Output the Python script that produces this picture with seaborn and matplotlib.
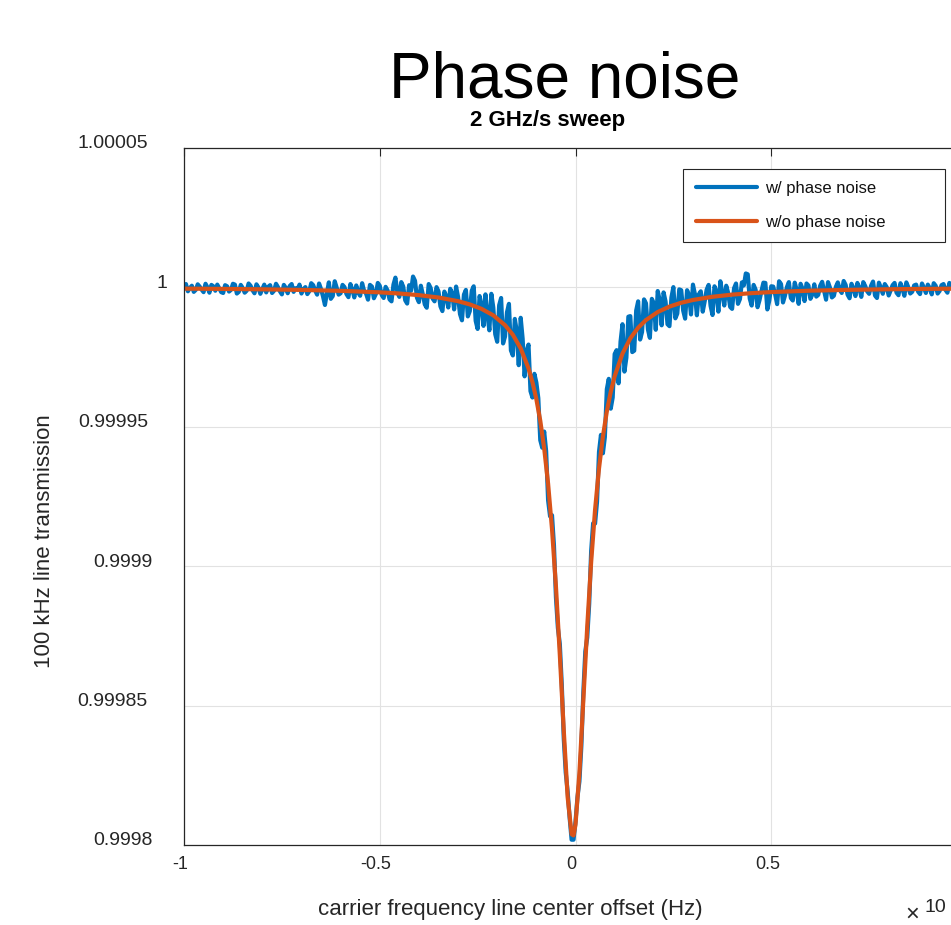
import numpy as np
import matplotlib
matplotlib.use("Agg")
import matplotlib.pyplot as plt
import matplotlib.transforms as mtransforms
import seaborn as sns

# carrier offset in units of 1e6 Hz, transmission given as deviation from 1 in ppm
# smooth curve (w/o phase noise)
x_clean = [-1.0, -0.9, -0.8, -0.7, -0.6, -0.5, -0.45, -0.4, -0.35, -0.3,
           -0.27, -0.24, -0.21, -0.18, -0.16, -0.14, -0.12, -0.11, -0.10, -0.09,
           -0.08, -0.07, -0.06, -0.05, -0.04, -0.03, -0.02, -0.01, -0.005, 0.0,
           0.01, 0.02, 0.03, 0.04, 0.05, 0.06, 0.07, 0.08, 0.09, 0.10,
           0.12, 0.14, 0.16, 0.18, 0.21, 0.24, 0.27, 0.30, 0.35, 0.40,
           0.45, 0.50, 0.60, 0.70, 0.80, 0.90, 1.0]
clean_ppm = [-0.44, -0.54, -0.69, -0.90, -1.23, -1.77, -2.19, -2.78, -3.63, -4.94,
             -6.10, -7.70, -10.02, -13.54, -16.99, -21.87, -29.05, -33.95, -40.07, -47.82,
             -57.72, -70.42, -86.69, -107.19, -131.92, -158.89, -182.93, -196.12, -196.57, -192.65,
             -174.15, -148.08, -121.60, -98.48, -79.72, -64.97, -53.47, -44.50, -37.46, -31.86,
             -23.73, -18.27, -14.46, -11.71, -8.83, -6.88, -5.51, -4.51, -3.36, -2.59,
             -2.06, -1.68, -1.17, -0.87, -0.67, -0.53, -0.43]

# noisy sweep (w/ phase noise), one sample every 0.005 from -1.000 to 0.995
noisy_left_ppm = [  # -1.000 .. -0.105
    -0.1, 1.2, -1.4, -0.2, 0.6, -1.6, -0.9, 1.1, 0.3, -0.8,
    -1.7, 1.3, 0.0, -1.9, 0.9, 0.4, -1.2, 1.0, -0.3, -1.7,
    -2.0, 0.8, 0.4, -1.5, -0.9, 1.3, 1.0, -2.2, -1.6, 0.9,
    -0.2, -1.9, -1.2, 1.4, 0.6, -1.0, -2.1, 1.1, 0.0, -2.3,
    -0.6, 1.0, -1.8, 0.2, 0.8, -2.0, -1.2, 1.3, 0.1, -1.4,
    -2.5, 0.9, -0.2, -2.1, 0.5, 1.2, -1.6, -0.3, -0.7, 1.0,
    -2.2, -0.6, 0.1, -2.4, -1.4, 1.5, 0.8, -1.1, -2.6, 1.4,
    -0.6, -3.2, -6.3, -2.0, 1.8, -4.1, -3.1, 2.2, -0.1, -2.6,
    -2.1, 0.9,
    0.1, -2.4, -3.5, 1.2, -0.8, -3.6, 0.7, -1.9, -3.0, 1.5,
    -1.2, -2.2, -4.4, 0.9, 0.3, -3.9, -2.4, 1.6, 0.6, -2.7,
    -3.8, 0.2, -1.1, -4.3, -5.0, 1.0, 3.5, -1.8, -3.4, 1.9,
    0.3, -4.6, -5.8, 0.8, -1.2, 3.9, 2.4, -3.7, -5.3, 0.6,
    -2.5, -6.1, -7.3, 1.2, -0.2, -4.0, -5.0, 0.1, -1.4, -6.8,
    -8.5, -1.5, -3.2, -7.2, -0.5, -2.1, -7.9, 0.3, -3.4, -9.6,
    -11.8, -2.6, -0.9, -10.4, -8.5, -1.2, 0.4, -12.0, -14.9, -3.1,
    -6.1, -13.8, -2.5, -9.9, -15.4, -2.3, -7.2, -16.8, -19.5, -6.4,
    -3.8, -20.1, -17.6, -8.9, -5.9, -22.6, -24.4, -11.3, -15.7, -27.9,
    -10.9, -18.4, -31.9, -22.8, -20.5, -37.2, -39.5, -31.0]
noisy_core_ppm = [  # -0.100 .. 0.105
    -34.1, -39.7, -54.8, -57.5, -51.7, -58.7, -76.4, -82.1, -81.7, -92.5,
    -111.2, -122.2, -127.9, -142.5, -161.9, -174.0, -180.9, -190.2, -198.1, -198.1,
    -191.6, -182.9, -177.2, -164.5, -145.1, -130.6, -125.6, -113.5, -94.5, -84.6,
    -84.7, -76.9, -59.0, -52.9, -59.5, -53.7, -36.5, -32.8, -43.5, -39.5,
    -23.9, -22.5]
noisy_right_ppm = [  # 0.110 .. 0.995
    -34.4, -19.5, -13.2, -30.2, -25.2, -10.5, -10.3, -23.2, -22.7, -8.3,
    -5.0, -18.7, -16.0, -4.3, -5.7, -15.1, -18.1, -4.1, -5.7, -15.2,
    -1.3, -4.5, -13.6, -1.8, -5.0, -13.2, -13.9, -3.6, 0.1, -11.1,
    -9.4, -0.7, -1.0, -8.3, -11.2, -1.0, -2.8, -9.7, 1.0, -2.4,
    -10.0, -2.5, -1.4, -8.7, -5.0, -0.8, 0.9, -6.6, -9.9, 0.4,
    -1.4, -8.7, 2.2, -2.0, -6.5, 0.6, -2.0, -7.0, -7.7, -0.3,
    1.4, -5.9, -4.2, 1.8, 0.7, 5.0, 4.7, -4.0, -6.5, 0.9,
    -0.8, -7.1, -4.6, -1.3, 1.7, 1.6, -7.9, -4.7, 0.4, 0.3,
    -2.5, -6.0, 2.2, 1.2, -5.4, -3.0, 0.1, 1.9, -3.8, -4.7,
    1.7, -0.9, -5.9, 1.3, -0.5, -4.9, 1.4, 0.7, -4.1, -2.5,
    1.1, -3.3, -2.7, 0.6, 2.0, -1.2, -4.4, 1.9, -0.1, -3.6,
    -3.0, 0.2, 1.8, -0.8, -2.0, 2.3, 0.9, -2.6, -3.9, 1.3,
    -0.3, -3.1, 1.6, -0.2, -3.4, 1.9, 0.5, -1.4, -2.3, 0.6,
    2.1, -2.9, -3.8, 1.7, -0.1, -2.3, 1.2, 0.1, -2.9, -1.0,
    0.8, 1.6, -1.9, -2.8, 1.5, -0.4, -3.0, 1.8, 0.1, -2.2,
    -1.6, 0.7, 1.0, -1.5, -2.4, 1.4, -0.1, -2.0, 1.0, -0.3,
    -2.5, 1.5, 0.6, -2.2, -1.3, 0.8, 1.2, -0.9, -1.9, 1.6,
    0.1, -1.5, 0.7, -0.2, -2.1, 1.3, 0.5, -1.8]

x_ticks = [-1, -0.5, 0, 0.5]
x_tick_labels = ["-1", "-0.5", "0", "0.5"]
y_ticks = [0.9998, 0.99985, 0.9999, 0.99995, 1.0, 1.00005]
y_tick_labels = ["0.9998", "0.99985", "0.9999", "0.99995", "1", "1.00005"]

x_noisy = np.round(np.arange(-200, 200) * 0.005, 3)
noisy_ppm = np.array(noisy_left_ppm + noisy_core_ppm + noisy_right_ppm)
y_noisy = 1 + noisy_ppm * 1e-6
y_clean = 1 + np.array(clean_ppm) * 1e-6

BLUE = "#0072BD"
ORANGE = "#D95319"
AXCOL = "#262626"

sns.set_theme(style="white")
plt.rcParams["font.family"] = ["Liberation Sans", "DejaVu Sans"]

W, H = 951, 925
fig = plt.figure(figsize=(W / 100, H / 100), dpi=100)
# the axes run past the right edge of the picture, like the cropped original
ax = fig.add_axes([184 / W, 80 / H, 783 / W, 697 / H])

sns.lineplot(x=x_noisy, y=y_noisy, ax=ax, color=BLUE, linewidth=3,
             label="w/ phase noise", estimator=None, sort=False)
sns.lineplot(x=x_clean, y=y_clean, ax=ax, color=ORANGE, linewidth=3,
             label="w/o phase noise", estimator=None, sort=False)

ax.set_xlim(-1, 1)
ax.set_ylim(0.9998, 1.00005)
ax.set_xticks(x_ticks, labels=x_tick_labels)
ax.set_yticks(y_ticks, labels=y_tick_labels)
ax.grid(True, color="#e2e2e2", linewidth=0.8)
ax.set_axisbelow(True)

for s in ax.spines.values():
    s.set_color(AXCOL)
    s.set_linewidth(0.9)
ax.tick_params(axis="both", direction="in", length=6, width=0.8, color=AXCOL,
               labelcolor=AXCOL, top=True, right=True)
ax.tick_params(axis="y", pad=26, labelsize=14)
ax.tick_params(axis="x", pad=8, labelsize=13)

# small nudges of the tick labels as in the original rendering
y_dx = [5, 0, 5, 0, 19, 0]
for lab, dx in zip(ax.get_yticklabels(), y_dx):
    lab.set_transform(lab.get_transform() +
                      mtransforms.ScaledTranslation(dx / 100, 6 / 100, fig.dpi_scale_trans))
for lab in ax.get_xticklabels():
    lab.set_transform(lab.get_transform() +
                      mtransforms.ScaledTranslation(-4 / 100, 0, fig.dpi_scale_trans))

ax.set_xlabel("carrier frequency line center offset (Hz)", fontsize=16, color=AXCOL)
ax.xaxis.set_label_coords((510 - 184) / 783, (845 - 910) / 697)
ax.xaxis.label.set_va("center")
ax.set_ylabel("100 kHz line transmission", fontsize=16, color=AXCOL)
ax.yaxis.set_label_coords((45 - 184) / 783, (845 - 541) / 697)
ax.yaxis.label.set_va("center")

leg = ax.legend(loc="lower left", bbox_to_anchor=(683 / W, 1 - 242 / H, 262 / W, 72 / H),
                bbox_transform=fig.transFigure, mode="expand", borderaxespad=0,
                fontsize=12, handlelength=3.7, handletextpad=0.45, labelspacing=1.1,
                borderpad=0.75, frameon=True, fancybox=False, edgecolor=AXCOL,
                framealpha=1)
leg.get_frame().set_linewidth(0.8)
for t in leg.get_texts():
    t.set_color("#111111")

fig.text(565 / W, 1 - 97 / H, "Phase noise", ha="center", va="baseline",
         fontsize=46, color="black")
fig.text(548 / W, 1 - 126 / H, "2 GHz/s sweep", ha="center", va="baseline",
         fontsize=16, fontweight="bold", color="black")
fig.text(912 / W, 1 - 921 / H, "\u00d7", ha="center", va="baseline", fontsize=17, color=AXCOL)
fig.text(924 / W, 1 - 908 / H, "10", ha="left", va="center", fontsize=14, color=AXCOL)

fig.savefig("out.png", dpi=100)
